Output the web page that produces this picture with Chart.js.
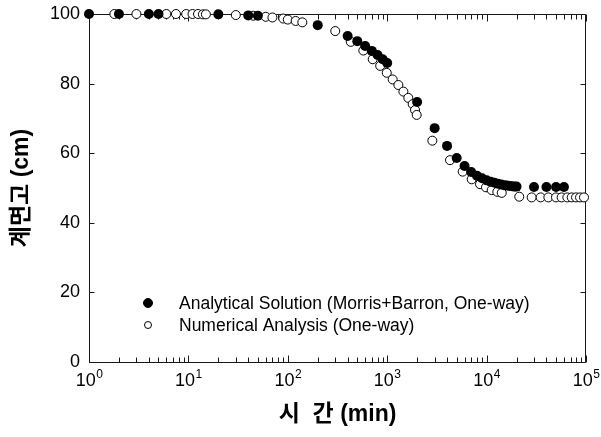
<!DOCTYPE html>
<html>
<head>
<meta charset="utf-8">
<script src="https://cdn.jsdelivr.net/npm/chart.js@4"></script>
<style>
  html, body { margin: 0; padding: 0; background: #fff; }
  #wrap { width: 601px; height: 437px; }
</style>
</head>
<body>
<div id="wrap"><canvas id="levelChart" width="601" height="437"></canvas></div>
<script>
// Analytical Solution (Morris+Barron, One-way)
var anaTime = [1, 2, 4, 5, 20, 40, 50, 200, 400, 500, 600, 700, 800, 900, 1000,
    2000, 3000, 4000, 5000, 6000, 7000, 8000, 9000, 10000, 11000, 12000, 13000,
    14000, 15000, 16000, 17000, 18000, 19000, 20000, 30000, 40000, 50000, 60000];
var anaHeight = [100, 100, 100, 100, 99.9, 99.6, 99.5, 96.8, 93.7, 92.2, 90.8, 89.4, 88.2, 87.0, 85.9,
    74.7, 67.2, 62.1, 58.6, 56.3, 54.6, 53.5, 52.8, 52.2, 51.8, 51.5, 51.2,
    51.0, 50.8, 50.7, 50.6, 50.5, 50.4, 50.4, 50.3, 50.3, 50.3, 50.3];

// Numerical Analysis (One-way)
var numTime = [1.8, 3, 6, 7.5, 9.5, 11, 12.5, 14, 15, 30, 45, 60, 70, 90, 100, 120, 140,
    300, 430, 575, 715, 850, 990, 1135, 1295, 1455, 1630, 1805, 1905, 1980,
    2845, 4285, 5745, 7080, 8590, 9860, 11250, 12820, 14200, 21300,
    28400, 35000, 41800, 49900, 56900, 64900, 71800, 79400, 87100, 95500];
var numHeight = [100, 100, 100, 100, 100, 100, 100, 99.9, 99.9, 99.7, 99.5, 99.2, 99.0, 98.7, 98.4, 98.0, 97.6,
    95.1, 92.0, 89.5, 87.0, 85.1, 83.1, 81.2, 79.6, 77.7, 75.9, 74.1, 72.4, 71.0,
    63.6, 58.0, 54.7, 52.5, 51.1, 50.2, 49.4, 48.9, 48.6, 47.5,
    47.3, 47.3, 47.3, 47.3, 47.3, 47.3, 47.3, 47.3, 47.3, 47.3];

var xDecades = [0, 1, 2, 3, 4, 5];
var yTicks = [0, 20, 40, 60, 80, 100];

var FONT = '"Liberation Sans", Arial, "Noto Sans CJK KR", sans-serif';

function pairs(xs, ys) {
    return xs.map(function (x, i) { return { x: x, y: ys[i] }; });
}

function drawFrame(chart) {
    var ctx = chart.ctx, a = chart.chartArea;
    var xs = chart.scales.x, ys = chart.scales.y;
    var L = Math.round(a.left) + 0.5, R = Math.round(a.right) - 0.5;
    var T = Math.round(a.top) + 0.5, B = Math.round(a.bottom) + 0.5;
    ctx.save();
    ctx.strokeStyle = '#1a1a1a';
    ctx.lineWidth = 1;
    ctx.beginPath();
    ctx.moveTo(L, T); ctx.lineTo(R, T);
    ctx.moveTo(R, T); ctx.lineTo(R, B);
    ctx.moveTo(R, B); ctx.lineTo(L, B);
    ctx.moveTo(L, B); ctx.lineTo(L, T);
    // x ticks (major + minor), inward on bottom and top
    for (var d = 0; d < xDecades.length; d++) {
        for (var m = 1; m <= 9; m++) {
            var v = m * Math.pow(10, xDecades[d]);
            if (v > xs.max) break;
            var px = Math.round(xs.getPixelForValue(v)) + 0.5;
            var len = m === 1 ? 7 : 5;
            ctx.moveTo(px, B); ctx.lineTo(px, B - len);
            ctx.moveTo(px, T); ctx.lineTo(px, T + len);
        }
    }
    // y ticks, inward on left and right
    yTicks.forEach(function (t) {
        var py = Math.round(ys.getPixelForValue(t)) + 0.5;
        ctx.moveTo(L, py); ctx.lineTo(L + 5, py);
        ctx.moveTo(R, py); ctx.lineTo(R - 5, py);
    });
    ctx.stroke();
    ctx.restore();
}

// box with inward ticks (under the points), x labels as 10^n, legend inside the plot
var frameTicks = {
    id: 'frameTicks',
    beforeDatasetsDraw: function (chart) {
        drawFrame(chart);
    },
    afterDraw: function (chart) {
        var ctx = chart.ctx, xs = chart.scales.x, a = chart.chartArea;
        ctx.save();
        ctx.fillStyle = '#000';
        ctx.textBaseline = 'alphabetic';
        xDecades.forEach(function (d) {
            var px = xs.getPixelForValue(Math.pow(10, d));
            ctx.font = '18px ' + FONT;
            var w1 = ctx.measureText('10').width;
            ctx.font = '12px ' + FONT;
            var w2 = ctx.measureText(String(d)).width;
            var x0 = px - (w1 + w2) / 2;
            ctx.font = '18px ' + FONT;
            ctx.textAlign = 'left';
            ctx.fillText('10', x0, a.bottom + 24);
            ctx.font = '12px ' + FONT;
            ctx.fillText(String(d), x0 + w1 + 0.5, a.bottom + 16);
        });
        var rows = [{ y: 303 }, { y: 325 }];
        chart.data.datasets.forEach(function (ds, i) {
            var y = rows[i].y;
            ctx.beginPath();
            ctx.arc(148, y, i === 0 ? 4.5 : 3.5, 0, Math.PI * 2);
            ctx.fillStyle = ds.backgroundColor;
            ctx.fill();
            ctx.lineWidth = 1;
            ctx.strokeStyle = '#000';
            ctx.stroke();
            ctx.fillStyle = '#000';
            ctx.font = '17.5px ' + FONT;
            ctx.textBaseline = 'middle';
            ctx.textAlign = 'left';
            ctx.fillText(ds.label, 179, y + 1);
        });
        ctx.restore();
    }
};

var ctx = document.getElementById('levelChart').getContext('2d');
var levelChart = new Chart(ctx, {
    type: 'scatter',
    data: {
        datasets: [{
            label: 'Analytical Solution (Morris+Barron, One-way)',
            data: pairs(anaTime, anaHeight),
            pointRadius: 5,
            pointBackgroundColor: '#000',
            backgroundColor: '#000',
            pointBorderColor: '#000',
            pointBorderWidth: 0,
            showLine: false,
            clip: false
        }, {
            label: 'Numerical Analysis (One-way)',
            data: pairs(numTime, numHeight),
            pointRadius: 4.5,
            pointBackgroundColor: '#fff',
            backgroundColor: '#fff',
            pointBorderColor: '#000',
            pointBorderWidth: 1,
            showLine: false,
            clip: false
        }]
    },
    options: {
        responsive: false,
        animation: false,
        layout: { padding: { top: 14, right: 15, left: 0, bottom: 0 } },
        plugins: {
            legend: { display: false },
            tooltip: { enabled: false }
        },
        scales: {
            x: {
                type: 'logarithmic',
                min: 1,
                max: 100000,
                grid: { display: false, drawTicks: false },
                border: { display: false },
                ticks: { display: false },
                title: {
                    display: true,
                    text: '시  간 (min)',
                    color: '#000',
                    font: { family: FONT, size: 23, weight: 'bold' },
                    padding: { top: 0, bottom: 9 }
                },
                afterFit: function (s) {
                    s.height = 75;
                    s.paddingLeft = 0; s.paddingRight = 0;
                }
            },
            y: {
                min: 0,
                max: 100,
                grid: { display: false, drawTicks: false },
                border: { display: false },
                ticks: {
                    stepSize: 20,
                    padding: 9,
                    color: '#000',
                    font: { family: FONT, size: 18 }
                },
                title: {
                    display: true,
                    text: '계면고 (cm)',
                    color: '#000',
                    font: { family: FONT, size: 23, weight: 'bold' },
                    padding: { top: 8, bottom: 0 }
                },
                afterFit: function (s) {
                    s.width = 89;
                    s.paddingTop = 0; s.paddingBottom = 0;
                }
            }
        }
    },
    plugins: [frameTicks]
});
</script>
</body>
</html>
